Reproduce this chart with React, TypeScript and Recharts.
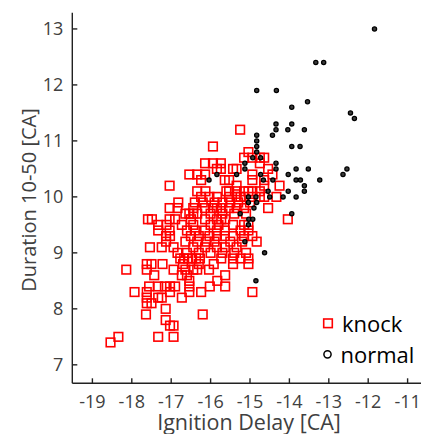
import React from 'react';
import { ScatterChart, Scatter, XAxis, YAxis, Legend, Label } from 'recharts';

const xTicks = [-19, -18, -17, -16, -15, -14, -13, -12, -11];
const yTicks = [7, 8, 9, 10, 11, 12, 13];
const seriesNames = ['knock', 'normal'];

// knock: rows of [duration, ignition delays]
const knockRows: [number, number[]][] = [
  [11.2, [-15.25]],
  [10.9, [-15.94]],
  [10.8, [-15.04]],
  [10.7, [-15.15, -14.94, -14.75, -14.64]],
  [10.6, [-16.14, -15.94, -15.74, -14.75]],
  [10.5, [-15.84, -15.74, -15.43, -15.34, -14.54]],
  [10.4, [-16.54, -16.34, -16.14, -14.94, -14.43]],
  [10.3, [-16.24, -15.64, -15.53, -14.94, -14.64]],
  [10.2, [-17.04, -15.34, -14.64, -14.25]],
  [10.1, [-16.34, -16.13, -15.6, -15.53, -15.34, -15.15, -15.04, -14.94, -14.75]],
  [10.0, [-16.24, -16.03, -15.84, -15.53, -15.34, -15.24, -15.15, -14.94, -14.75, -14.64, -14.33]],
  [9.9, [-16.82, -16.4, -16.2, -15.9, -15.7, -15.5, -15.3, -15.0]],
  [9.8, [-17.04, -16.84, -16.44, -16.14, -15.94, -15.84, -15.74, -15.53, -15.34, -15.15, -14.54]],
  [9.7, [-16.64, -16.54, -16.44, -16.34, -16.0, -15.7, -15.4, -15.1]],
  [9.6, [-17.59, -17.49, -17.04, -16.9, -16.5, -16.14, -15.84, -15.73, -15.63, -14.04]],
  [9.5, [-17.33, -17.12, -16.73, -16.44, -16.0, -15.8, -15.43, -15.15, -15.04]],
  [9.4, [-17.33, -17.04, -16.6, -16.4, -16.14, -15.84, -15.64, -15.24, -15.04]],
  [9.3, [-17.13, -17.03, -16.5, -16.3, -16.03, -15.84, -15.64, -15.43, -15.15, -14.94]],
  [9.2, [-17.13, -16.64, -16.34, -16.1, -15.9, -15.5, -15.2, -14.83]],
  [9.1, [-17.54, -17.24, -16.94, -16.44, -16.14, -15.84, -15.64, -15.34]],
  [9.0, [-16.84, -16.6, -16.3, -16.0, -15.7, -15.4, -15.1]],
  [8.9, [-16.77, -16.67, -16.57, -16.47, -16.37, -16.27, -15.73, -15.43, -15.24, -15.04]],
  [8.8, [-17.62, -17.5, -17.22, -16.7, -16.3, -15.92, -15.43, -15.04]],
  [8.7, [-18.14, -17.62, -16.94, -16.64, -16.44, -16.34, -16.04]],
  [8.6, [-17.43, -16.73, -16.6, -15.63]],
  [8.5, [-16.54, -15.83]],
  [8.4, [-17.56, -17.33, -17.16, -17.03, -16.9, -16.54, -16.02, -15.63]],
  [8.3, [-17.93, -17.62, -17.03, -16.54, -16.24, -14.94]],
  [8.2, [-17.62, -17.33, -17.24, -16.73]],
  [8.1, [-17.62, -17.5]],
  [8.0, [-17.14]],
  [7.9, [-17.64, -16.2]],
  [7.8, [-17.14]],
  [7.7, [-17.03, -16.94]],
  [7.5, [-18.34, -17.33, -16.94]],
  [7.4, [-18.54]],
];

// normal: [ignition delay, duration]
const normalPoints: [number, number][] = [
  [-11.84, 13.0],
  [-13.33, 12.4], [-13.13, 12.4],
  [-14.83, 11.9], [-14.33, 11.9],
  [-13.54, 11.7], [-13.94, 11.6],
  [-12.45, 11.5], [-12.35, 11.4],
  [-14.34, 11.3], [-13.94, 11.3],
  [-14.34, 11.2], [-14.04, 11.2], [-13.62, 11.2],
  [-14.83, 11.1], [-14.43, 11.1],
  [-14.83, 11.0],
  [-14.83, 10.9], [-13.94, 10.9], [-13.73, 10.9],
  [-14.83, 10.8],
  [-14.93, 10.7], [-14.73, 10.7],
  [-15.13, 10.6], [-14.34, 10.6],
  [-15.13, 10.5], [-14.34, 10.5], [-13.83, 10.5], [-13.52, 10.5], [-12.54, 10.5],
  [-15.84, 10.4], [-15.34, 10.4], [-14.73, 10.4], [-14.03, 10.4], [-12.64, 10.4],
  [-16.04, 10.3], [-14.66, 10.3], [-14.42, 10.3], [-13.83, 10.3], [-13.72, 10.3], [-13.23, 10.3],
  [-13.62, 10.2],
  [-14.54, 10.1], [-14.03, 10.1], [-13.62, 10.1],
  [-15.04, 10.0], [-14.85, 10.0], [-14.5, 10.0], [-14.16, 10.0], [-13.83, 10.0],
  [-15.04, 9.9], [-14.83, 9.9],
  [-14.9, 9.8],
  [-15.25, 9.7], [-13.94, 9.7],
  [-15.03, 9.6], [-14.93, 9.6],
  [-15.04, 9.5],
  [-15.13, 9.2],
  [-14.63, 9.0],
  [-14.85, 8.5],
];

const knockData = knockRows.flatMap(([y, xs]) => xs.map((x) => ({ x, y })));
const normalData = normalPoints.map(([x, y]) => ({ x, y }));

const FONT = '"Open Sans", "Noto Sans", sans-serif';

const Square = (p: any) => (
  <rect x={p.cx - 4.3} y={p.cy - 4.3} width={8.6} height={8.6} fill="none" stroke="#ff0000" strokeWidth={1.6} />
);
const Dot = (p: any) => (
  <circle cx={p.cx} cy={p.cy} r={2.1} fill="#3a3a3a" stroke="#000" strokeWidth={1.3} />
);

const LegendBox = () => (
  <svg width={421} height={434} style={{ display: 'block' }}>
    <rect x={323.7} y={319} width={8.6} height={8.6} fill="none" stroke="#ff0000" strokeWidth={1.6} />
    <text x={342} y={331.5} fontFamily={FONT} fontSize={22} fill="#000">{seriesNames[0]}</text>
    <circle cx={327.5} cy={354.3} r={3.6} fill="none" stroke="#000" strokeWidth={1.5} />
    <text x={340.5} y={362.7} fontFamily={FONT} fontSize={22} fill="#000">{seriesNames[1]}</text>
  </svg>
);

const tickStyle = { fill: '#404040', fontSize: 18, fontFamily: FONT };

export default function App() {
  return (
    <div style={{ position: 'absolute', left: 0, top: 0, width: 421, height: 434, background: '#fff' }}>
      <ScatterChart width={421} height={434} margin={{ top: 12.7, right: 0, bottom: 0.7, left: 12.3 }}>
        <XAxis
          xAxisId="b"
          type="number"
          dataKey="x"
          domain={[-19.51, -10.66]}
          ticks={xTicks}
          allowDataOverflow
          orientation="bottom"
          height={50}
          tickSize={-5}
          tickMargin={16.5}
          stroke="#222"
          strokeWidth={1.4}
          tick={tickStyle}
          interval={0}
        >
          <Label
            content={() => (
              <text x={249} y={429.5} textAnchor="middle" fontFamily={FONT} fontSize={21.5} fill="#404040">
                Ignition Delay [CA]
              </text>
            )}
          />
        </XAxis>
        <XAxis
          xAxisId="t"
          type="number"
          dataKey="x"
          domain={[-19.51, -10.66]}
          ticks={xTicks}
          allowDataOverflow
          orientation="top"
          height={0}
          tickSize={-5}
          stroke="#222"
          strokeWidth={1.4}
          tick={false}
          interval={0}
        />
        <YAxis
          yAxisId="l"
          type="number"
          dataKey="y"
          domain={[6.67, 13.29]}
          ticks={yTicks}
          allowDataOverflow
          width={60}
          tickSize={-5}
          tickMargin={14}
          stroke="#222"
          strokeWidth={1.4}
          tick={tickStyle}
          interval={0}
        >
          <Label
            content={() => (
              <text
                x={36}
                y={200}
                textAnchor="middle"
                transform="rotate(-90 36 200)"
                fontFamily={FONT}
                fontSize={20}
                fill="#404040"
              >
                Duration 10-50 [CA]
              </text>
            )}
          />
        </YAxis>
        <Scatter name={seriesNames[0]} data={knockData} xAxisId="b" yAxisId="l" shape={Square} isAnimationActive={false} />
        <Scatter name={seriesNames[1]} data={normalData} xAxisId="b" yAxisId="l" shape={Dot} isAnimationActive={false} />
        <Legend
          layout="vertical"
          align="center"
          verticalAlign="middle"
          wrapperStyle={{ left: 0, top: 0, width: 421, height: 434, pointerEvents: 'none' }}
          content={() => <LegendBox />}
        />
      </ScatterChart>
    </div>
  );
}
